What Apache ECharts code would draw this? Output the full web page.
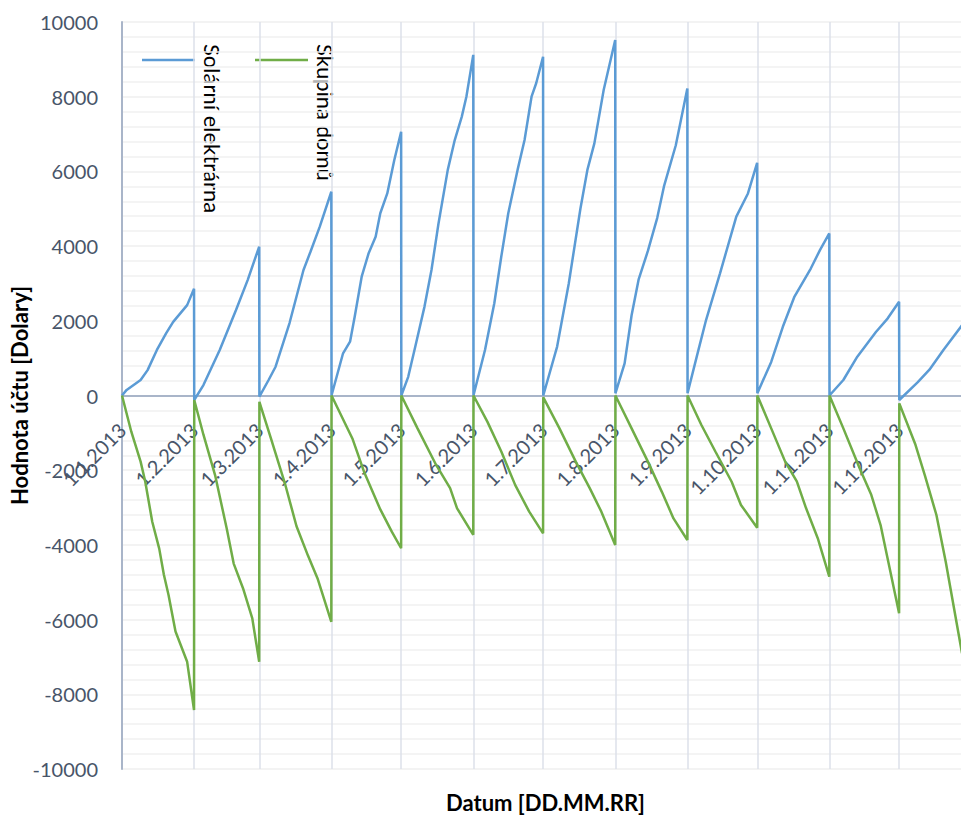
<!DOCTYPE html>
<html lang="cs">
<head>
<meta charset="utf-8">
<title>Hodnota účtu</title>
<script src="https://cdn.jsdelivr.net/npm/echarts@6/dist/echarts.min.js"></script>
<style>
  html, body { margin: 0; padding: 0; background: #fff; }
  #chart { width: 961px; height: 816px; }
</style>
</head>
<body>
<div id="chart"></div>
<script>
// Cumulative account value of the solar plant (settled monthly)
const solarDates = [
  '2013-01-01', '2013-01-03', '2013-01-09', '2013-01-12', '2013-01-16', '2013-01-20', '2013-01-23', '2013-01-29', '2013-01-31 23:00',
  '2013-02-01 01:00', '2013-02-05', '2013-02-12', '2013-02-19', '2013-02-24', '2013-02-28 23:00',
  '2013-03-01 01:00', '2013-03-05', '2013-03-08', '2013-03-14', '2013-03-20', '2013-03-23', '2013-03-27', '2013-03-31 23:00',
  '2013-04-01 01:00', '2013-04-06', '2013-04-09', '2013-04-11', '2013-04-14', '2013-04-17', '2013-04-20', '2013-04-22', '2013-04-25', '2013-04-28', '2013-04-30 23:00',
  '2013-05-01 01:00', '2013-05-04', '2013-05-07', '2013-05-11', '2013-05-14', '2013-05-17', '2013-05-21', '2013-05-24', '2013-05-27', '2013-05-29', '2013-05-31 23:00',
  '2013-06-01 01:00', '2013-06-06', '2013-06-10', '2013-06-13', '2013-06-16', '2013-06-20', '2013-06-23', '2013-06-26', '2013-06-28', '2013-06-30 23:00',
  '2013-07-01 01:00', '2013-07-07', '2013-07-12', '2013-07-17', '2013-07-20', '2013-07-23', '2013-07-27', '2013-07-31 23:00',
  '2013-08-01 01:00', '2013-08-05', '2013-08-08', '2013-08-11', '2013-08-15', '2013-08-19', '2013-08-22', '2013-08-27', '2013-08-31 23:00',
  '2013-09-01 01:00', '2013-09-05', '2013-09-09', '2013-09-15', '2013-09-22', '2013-09-27', '2013-09-30 23:00',
  '2013-10-01 01:00', '2013-10-07', '2013-10-12', '2013-10-17', '2013-10-24', '2013-10-28', '2013-10-31 23:00',
  '2013-11-01 01:00', '2013-11-07', '2013-11-13', '2013-11-21', '2013-11-26', '2013-11-30 23:00',
  '2013-12-01 01:00', '2013-12-09', '2013-12-14', '2013-12-20', '2013-12-28'
];
const solarValues = [
  0, 150, 415, 680, 1220, 1670, 1970, 2420, 2860,
  -120, 280, 1220, 2290, 3090, 3985,
  -30, 415, 770, 1940, 3360, 3850, 4520, 5455,
  0, 1130, 1440, 2110, 3180, 3810, 4250, 4880, 5410, 6300, 7060,
  0, 500, 1300, 2380, 3360, 4600, 6040, 6840, 7460, 8000, 9120,
  0, 1220, 2470, 3720, 4880, 6040, 6840, 8000, 8360, 9070,
  0, 1310, 3000, 5000, 6040, 6750, 8180, 9520,
  60, 860, 2150, 3100, 3870, 4750, 5620, 6700, 8220,
  60, 1040, 2020, 3270, 4790, 5410, 6230,
  60, 900, 1840, 2650, 3400, 3900, 4340,
  0, 415, 1040, 1700, 2060, 2510,
  -120, 360, 690, 1220, 1880
];

// Cumulative account value of the group of houses
const homeDates = [
  '2013-01-01', '2013-01-05', '2013-01-09', '2013-01-11', '2013-01-14', '2013-01-17', '2013-01-19', '2013-01-21', '2013-01-24', '2013-01-29', '2013-01-31 23:00',
  '2013-02-01 01:00', '2013-02-05', '2013-02-10', '2013-02-15', '2013-02-18', '2013-02-22', '2013-02-26', '2013-02-28 23:00',
  '2013-03-01 01:00', '2013-03-06', '2013-03-12', '2013-03-17', '2013-03-22', '2013-03-26', '2013-03-31 23:00',
  '2013-04-01 01:00', '2013-04-10', '2013-04-15', '2013-04-22', '2013-04-27', '2013-04-30 23:00',
  '2013-05-01 01:00', '2013-05-08', '2013-05-16', '2013-05-22', '2013-05-25', '2013-05-31 23:00',
  '2013-06-01 01:00', '2013-06-07', '2013-06-13', '2013-06-19', '2013-06-25', '2013-06-30 23:00',
  '2013-07-01 01:00', '2013-07-08', '2013-07-15', '2013-07-21', '2013-07-26', '2013-07-31 23:00',
  '2013-08-01 01:00', '2013-08-08', '2013-08-15', '2013-08-21', '2013-08-26', '2013-08-31 23:00',
  '2013-09-01 01:00', '2013-09-07', '2013-09-13', '2013-09-20', '2013-09-24', '2013-09-30 23:00',
  '2013-10-01 01:00', '2013-10-07', '2013-10-13', '2013-10-18', '2013-10-22', '2013-10-27', '2013-10-31 23:00',
  '2013-11-01 01:00', '2013-11-07', '2013-11-14', '2013-11-19', '2013-11-23', '2013-11-26', '2013-11-30 23:00',
  '2013-12-01 01:00', '2013-12-08', '2013-12-12', '2013-12-17', '2013-12-21', '2013-12-28'
];
const homeValues = [
  0, -970, -1770, -2310, -3380, -4100, -4800, -5340, -6320, -7130, -8420,
  -120, -1050, -2130, -3560, -4500, -5160, -5970, -7130,
  -170, -1150, -2350, -3500, -4300, -4890, -6060,
  0, -1150, -2040, -3050, -3650, -4090,
  0, -880, -1860, -2480, -3020, -3730,
  0, -700, -1500, -2400, -3110, -3690,
  -50, -880, -1770, -2480, -3110, -4000,
  0, -880, -1770, -2580, -3290, -3870,
  0, -790, -1500, -2310, -2930, -3540,
  0, -880, -1770, -2300, -3020, -3820, -4850,
  0, -880, -1950, -2660, -3470, -4360, -5830,
  -210, -1320, -2130, -3200, -4450, -6900
];

const seriesNames = ['Solární elektrárna', 'Skupina domů'];
const seriesColors = ['#5B9BD5', '#70AD47'];
const yTicks = { min: -10000, max: 10000, step: 2000 };
const xTitle = 'Datum [DD.MM.RR]';
const yTitle = 'Hodnota účtu [Dolary]';

const pair = (dates, values) => dates.map((d, i) => [d, values[i]]);

const labelColor = '#485569';
const font = 'Lato, "Open Sans", sans-serif';

// Plot box: the date axis sits on the zero line, half way down the box
const plotTop = 22;
const plotHeight = 747;
const zeroLineLift = plotHeight * (0 - yTicks.min) / (yTicks.max - yTicks.min);

const chart = echarts.init(document.getElementById('chart'), null, { renderer: 'svg' });

chart.setOption({
  animation: false,
  backgroundColor: '#ffffff',
  grid: { left: 122, top: plotTop, width: 847, height: plotHeight, containLabel: false, outerBoundsMode: 'none' },
  xAxis: {
    type: 'time',
    position: 'bottom',
    offset: -zeroLineLift,
    min: '2013-01-01',
    max: '2013-12-31',
    splitNumber: 12,
    minInterval: 28 * 24 * 3600 * 1000,
    maxInterval: 31 * 24 * 3600 * 1000,
    name: xTitle,
    nameLocation: 'middle',
    nameGap: 396,
    nameTextStyle: { fontFamily: font, fontWeight: 'bold', fontSize: 22, color: '#000' },
    axisLine: { onZero: false, lineStyle: { color: '#A9B5C9', width: 2 } },
    axisTick: { show: false },
    axisLabel: {
      rotate: 45,
      margin: 31,
      showMinLabel: true,
      showMaxLabel: false,
      hideOverlap: false,
      fontFamily: font,
      fontSize: 20,
      color: labelColor,
      formatter: function (val) {
        const d = new Date(val);
        return d.getDate() + '.' + (d.getMonth() + 1) + '.' + d.getFullYear();
      }
    },
    splitLine: { show: true, lineStyle: { color: '#DCE1EA', width: 1.5 } }
  },
  yAxis: {
    type: 'value',
    min: yTicks.min,
    max: yTicks.max,
    interval: yTicks.step,
    axisLine: { show: true, onZero: false, lineStyle: { color: '#A9B5C9', width: 2 } },
    axisTick: { show: false },
    axisLabel: {
      margin: 24, fontFamily: font, fontSize: 20, color: labelColor,
      formatter: function (v) { return String(v); }
    },
    splitLine: { show: true, lineStyle: { color: '#EFEFEF', width: 1.5 } },
    minorTick: { show: false, splitNumber: 5 },
    minorSplitLine: { show: true, lineStyle: { color: '#F1F1F1', width: 1.5 } }
  },
  series: [
    {
      name: seriesNames[0],
      type: 'line',
      data: pair(solarDates, solarValues),
      showSymbol: false,
      lineStyle: { color: seriesColors[0], width: 2.5 },
      itemStyle: { color: seriesColors[0] },
      z: 3
    },
    {
      name: seriesNames[1],
      type: 'line',
      data: pair(homeDates, homeValues),
      showSymbol: false,
      lineStyle: { color: seriesColors[1], width: 2.5 },
      itemStyle: { color: seriesColors[1] },
      z: 4
    }
  ],
  graphic: [
    // Value axis title, running bottom-to-top beside the tick labels
    { type: 'text', x: 19, y: plotTop + plotHeight / 2, rotation: Math.PI / 2,
      style: { text: yTitle, fontFamily: font, fontWeight: 'bold', fontSize: 22, fill: '#000', align: 'center', verticalAlign: 'middle' } },
    // Legend drawn by hand so the item labels can run vertically
    { type: 'line', shape: { x1: 142, y1: 60, x2: 195, y2: 60 }, style: { stroke: seriesColors[0], lineWidth: 2.5 } },
    { type: 'text', x: 212, y: 44, rotation: -Math.PI / 2,
      style: { text: seriesNames[0], fontFamily: font, fontSize: 22, fill: '#000', align: 'left', verticalAlign: 'middle' } },
    { type: 'line', shape: { x1: 255, y1: 60, x2: 308, y2: 60 }, style: { stroke: seriesColors[1], lineWidth: 2.5 } },
    { type: 'text', x: 325, y: 44, rotation: -Math.PI / 2,
      style: { text: seriesNames[1], fontFamily: font, fontSize: 22, fill: '#000', align: 'left', verticalAlign: 'middle' } }
  ]
});
</script>
</body>
</html>
